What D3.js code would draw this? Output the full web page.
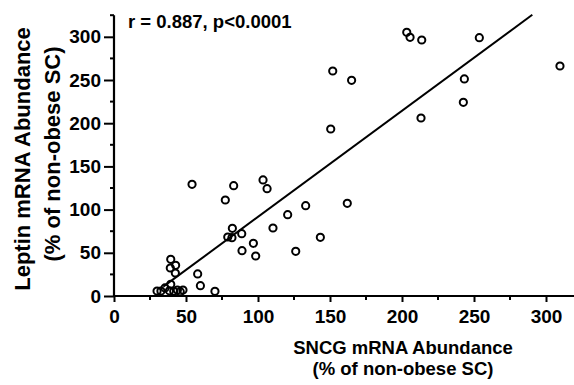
<!DOCTYPE html>
<html><head><meta charset="utf-8">
<script src="https://cdn.jsdelivr.net/npm/d3@7"></script>
<style>body{margin:0;background:#fff}svg{display:block}text{font-family:"Liberation Sans",Arial,sans-serif;font-weight:bold;fill:#000}</style>
</head><body><svg id="c" width="574" height="385"></svg>
<script>
const sncg = [29.9,32.6,35.4,38.5,39.4,41.5,44.0,46.0,47.9,39.4,39.1,42.8,42.6,58.1,60.0,70.1,54.2,83.1,77.3,103.5,106.3,82.2,79.0,81.9,88.7,88.9,96.8,98.4,110.4,120.6,133.1,126.2,143.3,162.0,150.5,151.9,165.0,203.3,205.6,213.7,253.7,309.7,243.3,242.6,213.2];
const leptin = [5.8,5.8,9.3,6.0,13.5,5.5,6.9,5.0,6.9,42.4,32.4,35.5,26.6,25.5,11.9,5.4,129.3,127.7,111.1,134.3,124.2,78.3,68.3,67.5,72.1,52.5,61.0,46.3,78.7,94.1,104.5,51.7,67.9,107.3,193.3,260.4,249.6,305.2,299.4,296.3,299.0,266.2,251.2,224.2,206.0];
const fitSlope = 1.228, fitIntercept = -31.2, fitRange = [34.2, 290.5];
const xMajor = [0,50,100,150,200,250,300];
const yMajor = [0,50,100,150,200,250,300];
const xMinor = [25,75,125,175,225,275];
const yMinor = [25,75,125,175,225,275,325];
const statText = "r = 0.887, p<0.0001";

const svg = d3.select("#c");
const x = d3.scaleLinear().domain([0,300]).range([114,546]);
const y = d3.scaleLinear().domain([0,300]).range([296,36.8]);

svg.append("line").attr("x1",x(0)).attr("x2",574).attr("y1",y(0)).attr("y2",y(0)).attr("stroke","#000").attr("stroke-width",2.2);
svg.append("line").attr("x1",x(0)).attr("x2",x(0)).attr("y1",y(0)+1).attr("y2",y(325)).attr("stroke","#000").attr("stroke-width",2.2);

const xAxis = d3.axisBottom(x).tickValues(xMajor).tickSize(6).tickPadding(7.5).tickFormat(d3.format("d"));
const gx = svg.append("g").attr("transform",`translate(0,${y(0)})`).call(xAxis);
gx.select(".domain").remove();
gx.selectAll("line").attr("stroke","#000").attr("stroke-width",2);
gx.selectAll("text").attr("font-size",19).style("font-family","Liberation Sans, Arial, sans-serif").style("font-weight","bold").attr("fill","#000");
svg.append("g").selectAll("line").data(xMinor).join("line")
  .attr("x1",d=>x(d)).attr("x2",d=>x(d)).attr("y1",y(0)).attr("y2",y(0)+4).attr("stroke","#000").attr("stroke-width",2);

const yAxis = d3.axisLeft(y).tickValues(yMajor).tickSize(10).tickPadding(3).tickFormat(d3.format("d"));
const gy = svg.append("g").attr("transform",`translate(${x(0)},0)`).call(yAxis);
gy.select(".domain").remove();
gy.selectAll("line").attr("stroke","#000").attr("stroke-width",2);
gy.selectAll("text").attr("font-size",19).style("font-family","Liberation Sans, Arial, sans-serif").style("font-weight","bold").attr("fill","#000");
svg.append("g").selectAll("line").data(yMinor).join("line")
  .attr("x1",x(0)-4).attr("x2",x(0)).attr("y1",d=>y(d)).attr("y2",d=>y(d)).attr("stroke","#000").attr("stroke-width",2);

svg.append("line")
  .attr("x1",x(fitRange[0])).attr("y1",y(fitSlope*fitRange[0]+fitIntercept))
  .attr("x2",x(fitRange[1])).attr("y2",y(fitSlope*fitRange[1]+fitIntercept))
  .attr("stroke","#000").attr("stroke-width",2);

svg.append("g").selectAll("circle").data(sncg.map((v,i)=>[v,leptin[i]])).join("circle")
  .attr("cx",d=>x(d[0])).attr("cy",d=>y(d[1])).attr("r",3.6)
  .attr("fill","none").attr("stroke","#000").attr("stroke-width",2);

svg.append("text").attr("x",128).attr("y",28).attr("font-size",18.5).text(statText);

svg.append("text").attr("x",403).attr("y",354).attr("text-anchor","middle").attr("font-size",18.5).text("SNCG mRNA Abundance");
svg.append("text").attr("x",403).attr("y",375).attr("text-anchor","middle").attr("font-size",18.5).text("(% of non-obese SC)");
svg.append("text").attr("transform","translate(30,159) rotate(-90)").attr("text-anchor","middle").attr("font-size",22).text("Leptin mRNA Abundance");
svg.append("text").attr("transform","translate(60,154) rotate(-90)").attr("text-anchor","middle").attr("font-size",22).text("(% of non-obese SC)");
</script></body></html>
